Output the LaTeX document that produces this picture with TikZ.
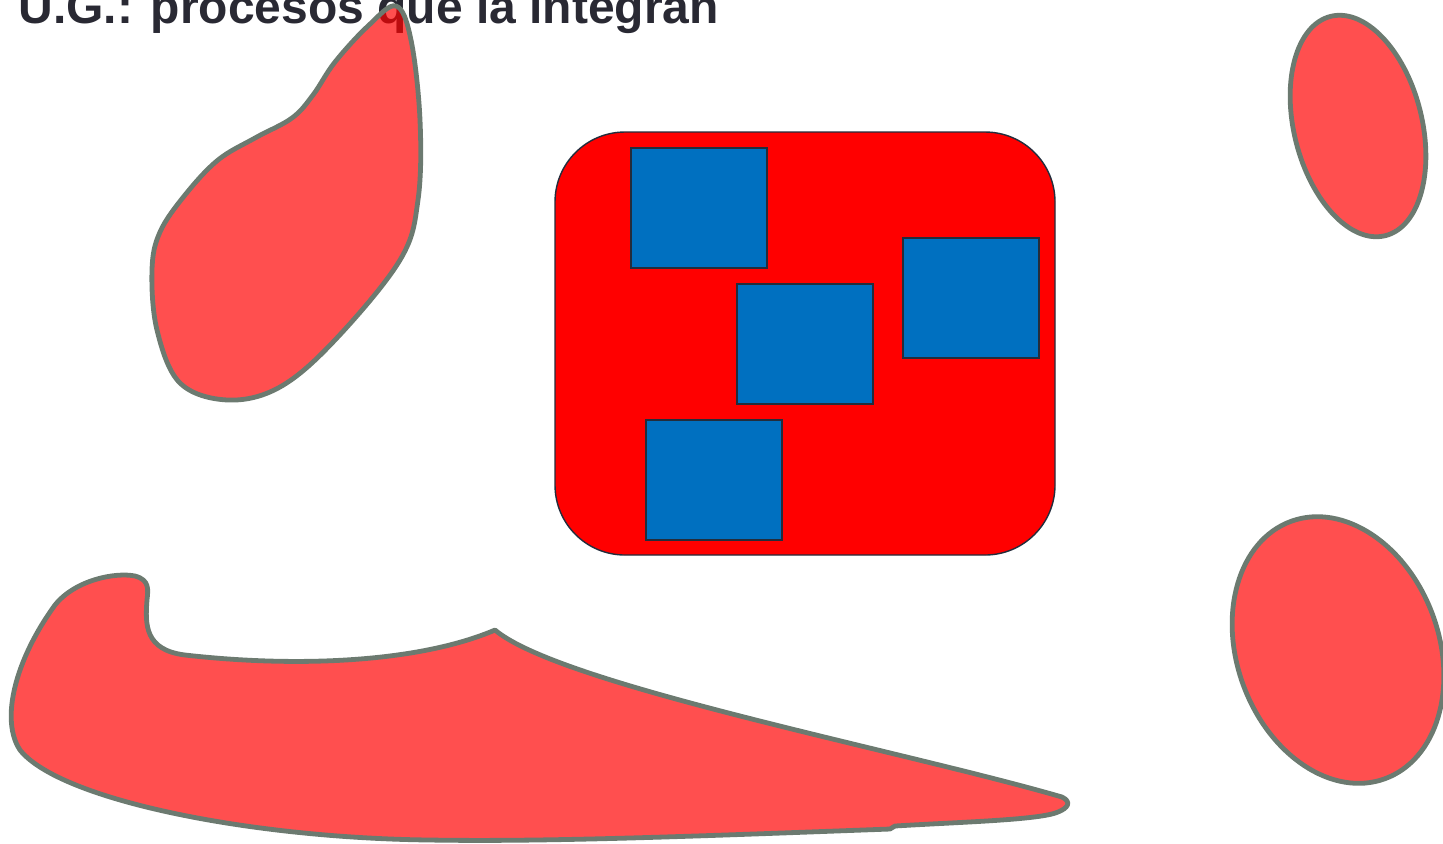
\documentclass[tikz,border=0pt]{standalone}
\usepackage{fontspec}
\setmainfont{Liberation Sans}
\usepackage{tikz}
\definecolor{blobline}{RGB}{108,122,112}
\definecolor{unitblue}{RGB}{0,112,192}
\definecolor{edgedark}{RGB}{35,45,60}
\definecolor{titlegray}{RGB}{41,41,51}
\tikzset{
  blob/.style  ={draw=blobline,line width=2.4pt,fill=red,fill opacity=0.69,
                 line join=round},
  panel/.style ={draw=edgedark,line width=0.7pt,fill=red,rounded corners=35pt},
  unit/.style  ={draw=edgedark,line width=1pt,fill=unitblue},
  headline/.style={anchor=base west,inner sep=0pt,text=titlegray,
                 font=\fontsize{24}{28}\selectfont\bfseries},
}

\begin{document}
\begin{tikzpicture}[x=0.5pt,y=-0.5pt]
\useasboundingbox (0,0) rectangle (1443,843);
% headline
\node[headline] (T) at (18,23) {U.G.: procesos que la integran};

% ---- free blobs --------------------------------------------------------
\draw[blob] plot[smooth cycle,tension=0.6] coordinates {
  (396,6) (411,40) (420,120) (418,200) (400,260) (335,340) (280,387)
  (228,400) (180,383) (157,330) (152,270) (160,232) (185,195) (218,160)
  (255,138) (292,118) (313,95) (335,62) (368,26)};
\draw[blob,rotate around={14:(1358,126)}] (1358,126) ellipse [x radius=64,y radius=113];
\draw[blob,rotate around={20:(1338,650)}] (1338,650) ellipse [x radius=101,y radius=137];
\draw[blob] (495,630) .. controls (560,685) and (900,750) .. (1062,797)
  .. controls (1072,802) and (1068,808) .. (1058,812)
  .. controls (1040,820) and (960,822) .. (895,826) -- (890,829)
  .. controls (700,836) and (550,842) .. (430,840)
  .. controls (250,838) and (60,800) .. (20,750)
  .. controls (0,720) and (15,660) .. (55,605)
  .. controls (75,580) and (115,572) .. (135,576)
  .. controls (150,580) and (148,590) .. (147,600)
  .. controls (145,625) and (145,650) .. (185,655)
  .. controls (300,668) and (420,662) .. (495,630) -- cycle;

% ---- panel with its units ---------------------------------------------
\draw[panel] (555,132) rectangle (1055,555);
\draw[unit] (631,148) rectangle (767,268);
\draw[unit] (737,284) rectangle (873,404);
\draw[unit] (903,238) rectangle (1039,358);
\draw[unit] (646,420) rectangle (782,540);
\end{tikzpicture}
\end{document}
